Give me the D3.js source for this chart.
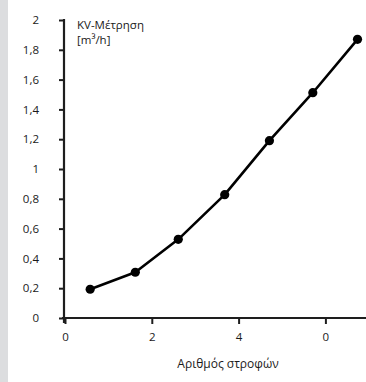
<!DOCTYPE html>
<html>
<head>
<meta charset="utf-8">
<script src="https://cdn.jsdelivr.net/npm/d3@7"></script>
<style>
  html, body { margin: 0; padding: 0; background: #fff; }
  svg { display: block; }
  text { font-family: "Open Sans", "DejaVu Sans", sans-serif; fill: #1a1a1a; }
</style>
</head>
<body>
<script>
// Measured flow coefficient against number of turns
const turns = [0.58, 1.62, 2.61, 3.68, 4.71, 5.71, 6.74];
const kvValues = [0.193, 0.307, 0.528, 0.828, 1.19, 1.512, 1.87];

const xTickValues = [0, 2, 4, 6];
const xTickLabels = ["0", "2", "4", "0"];
const yTickValues = [0, 0.2, 0.4, 0.6, 0.8, 1, 1.2, 1.4, 1.6, 1.8, 2];

const yTitleLines = ["KV-Μέτρηση", "[m³/h]"];
const xTitle = "Αριθμός στροφών";

const W = 366, H = 382;
const svg = d3.select("body").append("svg").attr("width", W).attr("height", H);

// light side band
svg.append("rect").attr("x", 0).attr("y", 0).attr("width", 8).attr("height", H).attr("fill", "#dcdddf");

const x = d3.scaleLinear().domain([0, 7]).range([65, 65 + 7 * 43.4]);
const y = d3.scaleLinear().domain([0, 2]).range([318, 20]);

const axisColor = "#1e1e1e";

// y axis
const yAxis = d3.axisLeft(y)
  .tickValues(yTickValues)
  .tickSize(5)
  .tickPadding(20)
  .tickFormat(d => d3.format("~g")(d).replace(".", ","));
const gy = svg.append("g").attr("transform", "translate(64,0)").call(yAxis);
gy.select(".domain").remove();
gy.selectAll(".tick line").attr("stroke", axisColor).attr("stroke-width", 2);
gy.selectAll(".tick text").attr("font-size", 11.5).attr("fill", "#1a1a1a")
  .attr("font-family", "'Open Sans', sans-serif");

// x axis
const xAxis = d3.axisBottom(x)
  .tickValues(xTickValues)
  .tickSize(6)
  .tickPadding(9)
  .tickFormat((d, i) => xTickLabels[i]);
const gx = svg.append("g").attr("transform", "translate(0,318)").call(xAxis);
gx.select(".domain").remove();
gx.selectAll(".tick line").attr("stroke", axisColor).attr("stroke-width", 2);
gx.selectAll(".tick text").attr("font-size", 11.5).attr("fill", "#1a1a1a")
  .attr("font-family", "'Open Sans', sans-serif");

// axis lines
svg.append("line").attr("x1", 64).attr("x2", 64).attr("y1", y(2) - 1).attr("y2", 323)
  .attr("stroke", axisColor).attr("stroke-width", 2.2);
svg.append("line").attr("x1", 62).attr("x2", W).attr("y1", 318).attr("y2", 318)
  .attr("stroke", axisColor).attr("stroke-width", 2.2);

// titles
svg.append("text").attr("x", 77).attr("y", 29).attr("font-size", 11.5).text(yTitleLines[0]);
svg.append("text").attr("x", 77).attr("y", 44).attr("font-size", 11.5).text(yTitleLines[1]);
svg.append("text").attr("x", 228).attr("y", 368).attr("font-size", 12)
  .attr("text-anchor", "middle").text(xTitle);

// series
const pts = turns.map((t, i) => [t, kvValues[i]]);
svg.append("path")
  .attr("d", d3.line().x(d => x(d[0])).y(d => y(d[1]))(pts))
  .attr("fill", "none").attr("stroke", "#000").attr("stroke-width", 2.6)
  .attr("stroke-linejoin", "round");
svg.selectAll("circle.pt").data(pts).join("circle")
  .attr("class", "pt")
  .attr("cx", d => x(d[0])).attr("cy", d => y(d[1])).attr("r", 4.6)
  .attr("fill", "#000");
</script>
</body>
</html>
